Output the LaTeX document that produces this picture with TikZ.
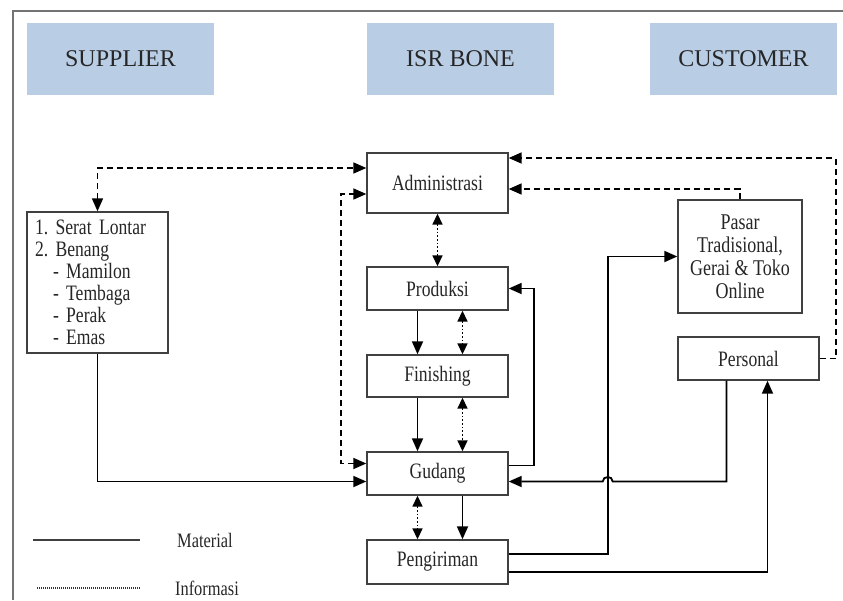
\documentclass[tikz,border=0pt]{standalone}
\usepackage{fontspec}
\setmainfont[FakeStretch=0.8]{Liberation Serif}
\newfontfamily\hdfont{Liberation Serif}
\usetikzlibrary{arrows.meta,calc}
\definecolor{hdblue}{HTML}{B9CDE5}
\definecolor{boxgray}{HTML}{404040}
\frenchspacing
\begin{document}
\begin{tikzpicture}[x=1pt,y=-1pt,
  >={Triangle[length=13pt,width=11pt]},
  hdr/.style={fill=hdblue, draw=none, minimum width=187pt, minimum height=72pt, inner sep=0pt, font=\hdfont\fontsize{24}{27}\selectfont, text=black!85},
  box/.style={draw=boxgray, line width=1.4pt, fill=white, minimum width=141pt, inner sep=0pt, font=\fontsize{22}{22}\selectfont, text=black!85},
  mat/.style={draw=black, line width=1.8pt, ->},
  info/.style={draw=black, line width=1.7pt, dash pattern=on 6pt off 4pt},
  dots/.style={draw=black, line width=1.7pt, dash pattern=on 1.7pt off 2pt, >={Triangle[length=11pt,width=10pt]}, <->},
  legtext/.style={font=\fontsize{20.5}{22}\selectfont, text=black!85, inner sep=0pt}
]
\useasboundingbox (0,0) rectangle (843,600);
% frame
\draw[line width=1.5pt, draw=black!55] (13,600) -- (13,11) -- (843,11);
% headers
\node[hdr] (hsup) at (120.5,59) {SUPPLIER};
\node[hdr] (hisr) at (460.5,59) {ISR BONE};
\node[hdr] (hcus) at (743.5,59) {CUSTOMER};
% central column
\node[box, minimum height=60pt] (adm) at (437.5,183) {Administrasi};
\node[box, minimum height=43pt] (pro) at (437.5,288.5) {Produksi};
\node[box, minimum height=42pt] (fin) at (437.5,376) {Finishing};
\node[box, minimum height=43pt] (gud) at (437.5,473.5) {Gudang};
\node[box, minimum height=44pt] (pen) at (437.5,562) {Pengiriman};
% supplier
\node[box, minimum height=141pt, text width=125pt, align=left] (sup) at (97.5,282.5)
  {1. Serat Lontar\\2. Benang\\\hspace*{18pt}- Mamilon\\\hspace*{18pt}- Tembaga\\\hspace*{18pt}- Perak\\\hspace*{18pt}- Emas};
% customer
\node[box, minimum width=124pt, minimum height=113pt, align=center, font=\fontsize{22.5}{23}\selectfont] (pas) at (740,256.5)
  {Pasar\\Tradisional,\\Gerai \& Toko\\Online};
\node[box, minimum height=43pt] (per) at (748.5,358.5) {Personal};
% information flows
\draw[info,<->] (sup.north) |- ([yshift=15pt]adm.west);
\draw[info,<->] ([yshift=10pt]gud.west) -- ++(-25,0) |- ([yshift=-11pt]adm.west);
\draw[info,->] (per.east) -- ++(16,0) |- ([yshift=25pt]adm.east);
\draw[info,->] (pas.north) |- ([yshift=-6pt]adm.east);
\draw[dots] (adm.south) -- (pro.north);
\draw[dots] ([xshift=25pt]pro.south) -- ([xshift=25pt]fin.north);
\draw[dots] ([xshift=25pt]fin.south) -- ([xshift=25pt]gud.north);
\draw[dots] ([xshift=-20pt]gud.south) -- ([xshift=-20pt]pen.north);
% material flows
\draw[mat] ([xshift=-20pt]pro.south) -- ([xshift=-20pt]fin.north);
\draw[mat] ([xshift=-20pt]fin.south) -- ([xshift=-20pt]gud.north);
\draw[mat] ([xshift=25pt]gud.south) -- ([xshift=25pt]pen.north);
\draw[mat] ([yshift=8pt]gud.east) -- ++(25,0) |- (pro.east);
\draw[mat] (sup.south) |- ([yshift=-8pt]gud.west);
\coordinate (jx) at ([xshift=99pt]pen.east);
\draw[mat] ([yshift=8pt]pen.east) -- ++(99,0) |- (pas.west);
\draw[mat] ([yshift=-10pt]pen.east) -| ([xshift=19pt]per.south);
\coordinate (pg1) at ([xshift=-22pt]per.south);
\coordinate (pg2) at ([yshift=-8pt]gud.east);
\draw[mat] (pg1) -- (pg1 |- pg2) -- ($(jx |- pg2)+(5,0)$) .. controls +(0,-6) and +(0,-6) .. ($(jx |- pg2)+(-5,0)$) -- (pg2);
% legend
\coordinate (m1) at (33,540); \coordinate (m2) at (140,540);
\draw[line width=2.2pt, draw=black!75] (m1) -- (m2);
\node[legtext] (lm) at (205,540) {Material};
\coordinate (i1) at (37,588); \coordinate (i2) at (140,588);
\draw[line width=1.3pt, draw=black!80, dash pattern=on 1pt off 1pt] (i1) -- (i2);
\node[legtext] (li) at (207,588) {Informasi};
\end{tikzpicture}
\end{document}
